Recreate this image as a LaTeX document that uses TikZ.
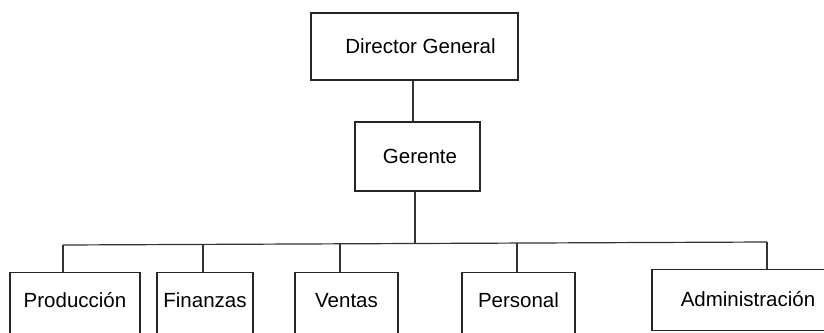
\documentclass[tikz,border=0pt]{standalone}
\usepackage{fontspec}
\setmainfont{Liberation Sans}
\begin{document}
\begin{tikzpicture}[x=1pt,y=-1pt,
  line width=1.3pt,
  orgbox/.style={draw=black!85, rectangle, inner sep=0pt, font=\fontsize{20.5}{24}\selectfont},
  unitbox/.style={orgbox, anchor=north, text height=35pt, text depth=38pt},
  link/.style={draw=black!80, line width=1.2pt}]
\useasboundingbox (0,0) rectangle (824,332);
\clip (0,0) rectangle (824,332);
\fill[white] (0,0) rectangle (824,332);

% top of the hierarchy
\node[orgbox, minimum width=207pt, minimum height=67pt] (dir) at (414.5,46.5) {\hspace{12pt}Director General};
\node[orgbox, minimum width=125pt, minimum height=69pt] (ger) at (417.5,156.5) {\hspace{5pt}Gerente};

% departments
\node[unitbox, minimum width=130pt] (prod) at (75,272) {Producción};
\node[unitbox, minimum width=96pt] (fin) at (205,272) {Finanzas};
\node[unitbox, minimum width=103pt] (ven) at (346.5,272) {Ventas};
\node[unitbox, minimum width=113pt] (per) at (518.5,272) {Personal};
\node[orgbox, anchor=north, text height=37pt, text depth=24pt, minimum width=192pt] (adm) at (748,269) {Administración};

% bus line joining the departments
\coordinate (b1) at (63,245);
\coordinate (b2) at (203,245);
\coordinate (b3) at (340,244);
\coordinate (bg) at (415,244);
\coordinate (b4) at (517,243);
\coordinate (b5) at (767,242);

\draw[link] (dir.south -| 413,0) -- (ger.north -| 413,0);
\draw[link] (ger.south -| bg) -- (bg);
\draw[link] (b1) -- (b5);
\draw[link] (b1) -- (b1 |- prod.north);
\draw[link] (b2) -- (b2 |- fin.north);
\draw[link] (b3) -- (b3 |- ven.north);
\draw[link] (b4) -- (b4 |- per.north);
\draw[link] (b5) -- (b5 |- adm.north);
\end{tikzpicture}
\end{document}
